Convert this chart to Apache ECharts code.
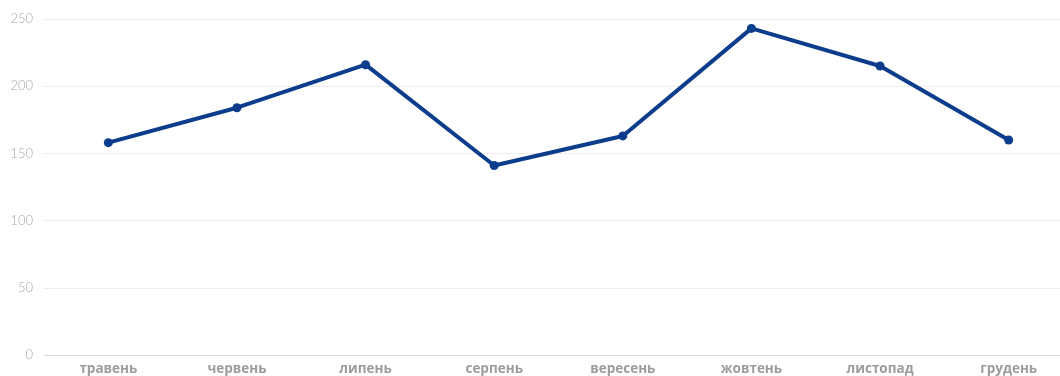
<!DOCTYPE html>
<html>
<head>
<meta charset="utf-8">
<script src="https://cdn.jsdelivr.net/npm/echarts@6/dist/echarts.min.js"></script>
<style>
  html, body { margin: 0; padding: 0; background: #fff; overflow: hidden; width: 1060px; height: 376px; }
  #chart { width: 1073px; height: 376px; }
</style>
</head>
<body>
<div id="chart"></div>
<script>
// Monthly values, May to December
const months = ['травень', 'червень', 'липень', 'серпень', 'вересень', 'жовтень', 'листопад', 'грудень'];
const values = [158, 184, 216, 141, 163, 243, 215, 160];
const yTicks = { min: 0, max: 250, interval: 50 };

const chart = echarts.init(document.getElementById('chart'), null, { renderer: 'canvas' });
chart.setOption({
  animation: false,
  backgroundColor: '#ffffff',
  grid: { left: 44, top: 19, right: 0, height: 338, containLabel: false },
  xAxis: {
    type: 'category',
    data: months,
    boundaryGap: true,
    axisLine: { show: true, lineStyle: { color: '#d9d9d9', width: 1 } },
    axisTick: { show: false },
    axisLabel: {
      color: '#9c9c9c',
      fontFamily: 'Open Sans',
      fontWeight: 'bold',
      fontSize: 13.5,
      margin: 7
    },
    splitLine: { show: false }
  },
  yAxis: {
    type: 'value',
    min: yTicks.min,
    max: yTicks.max,
    interval: yTicks.interval,
    axisLine: { show: false },
    axisTick: { show: false },
    axisLabel: {
      color: '#a6a6a6',
      fontFamily: 'Lato',
      fontWeight: 300,
      fontSize: 13,
      margin: 11
    },
    splitLine: { show: true, lineStyle: { color: '#ececec', width: 1 } }
  },
  series: [{
    type: 'line',
    data: values,
    symbol: 'circle',
    symbolSize: 9,
    lineStyle: { color: '#0b3d8c', width: 4 },
    itemStyle: { color: '#0b3d8c' }
  }]
});
</script>
</body>
</html>
